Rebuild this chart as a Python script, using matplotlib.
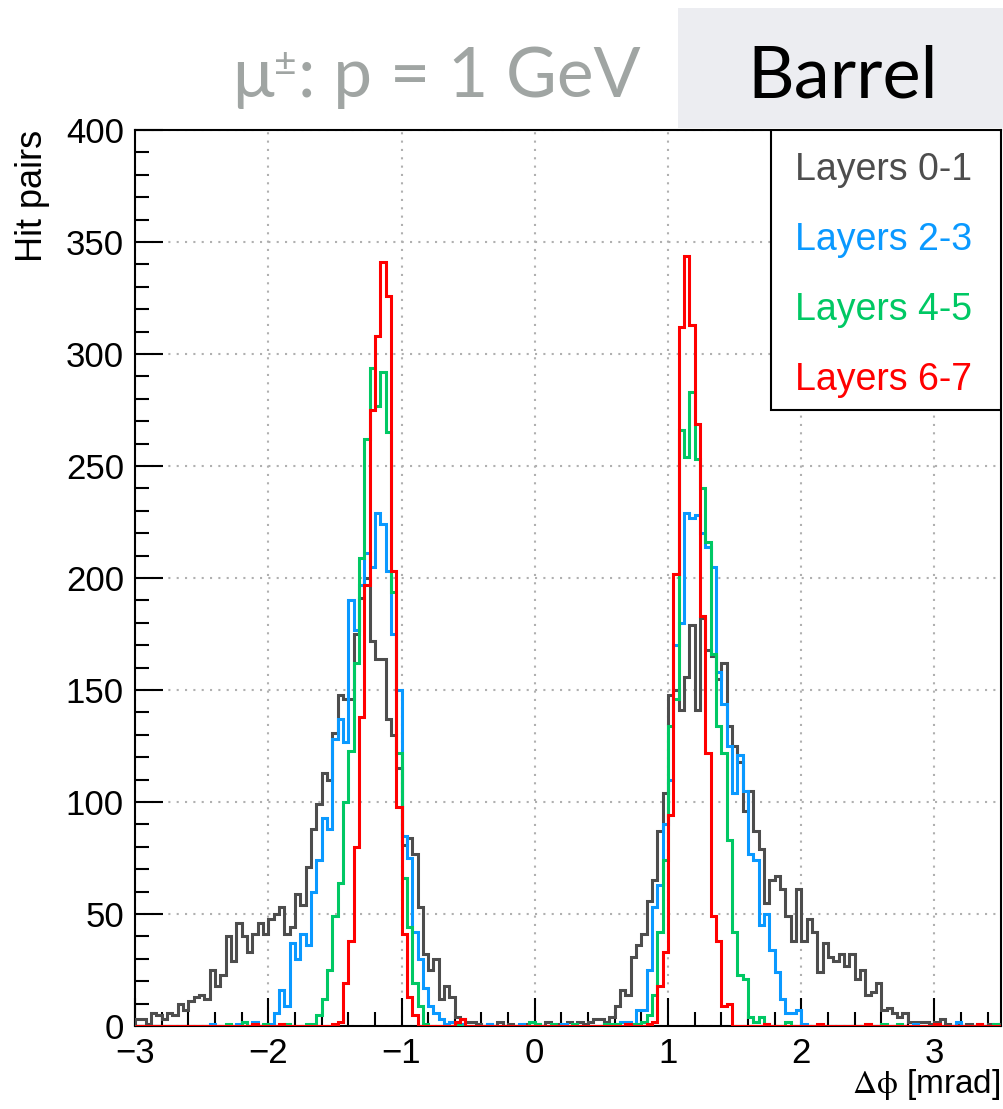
import numpy as np
import matplotlib
matplotlib.use("Agg")
from matplotlib import pyplot as plt
from matplotlib.patches import Rectangle
from matplotlib.ticker import MultipleLocator

plt.rcParams["font.family"] = ["Liberation Sans", "DejaVu Sans"]
plt.rcParams["mathtext.fontset"] = "stix"

# histogram binning: 0.04 mrad bins from -3 mrad
bin_width = 0.04
x_start = -3.0

# hit pair counts per bin
layers_01 = [
    3, 3, 1, 6, 5, 3, 6, 5, 10, 7,
    11, 13, 14, 12, 25, 18, 23, 40, 29, 46,
    40, 33, 41, 46, 41, 48, 50, 53, 41, 44,
    59, 54, 71, 88, 99, 113, 110, 131, 148, 146,
    146, 175, 191, 200, 172, 164, 164, 137, 130, 115,
    81, 84, 77, 53, 32, 25, 30, 12, 18, 13,
    4, 3, 2, 2, 1, 0, 1, 0, 2, 0,
    1, 0, 0, 1, 0, 1, 0, 2, 0, 1,
    0, 2, 1, 2, 1, 2, 3, 3, 2, 4,
    9, 16, 14, 31, 36, 41, 56, 65, 87, 104,
    148, 150, 141, 156, 179, 141, 182, 168, 165, 155,
    162, 134, 125, 118, 96, 105, 87, 79, 55, 65,
    67, 61, 49, 38, 61, 38, 48, 42, 24, 37,
    31, 29, 32, 27, 32, 21, 25, 14, 15, 19,
    7, 8, 6, 4, 6, 2, 2, 2, 2, 1,
    2, 3, 1, 0, 1, 0, 1, 0, 1, 0,
    1, 0, 1,
]
layers_23 = [
    0, 0, 0, 0, 0, 0, 0, 0, 0, 0,
    0, 0, 0, 0, 1, 0, 0, 0, 0, 1,
    0, 0, 2, 0, 0, 1, 6, 16, 9, 37,
    30, 41, 36, 60, 74, 93, 88, 128, 137, 127,
    190, 177, 197, 211, 205, 229, 224, 203, 175, 150,
    85, 75, 42, 30, 17, 9, 6, 3, 1, 2,
    0, 1, 0, 0, 0, 0, 1, 0, 0, 0,
    0, 0, 1, 0, 0, 0, 0, 0, 0, 0,
    1, 0, 0, 0, 0, 0, 0, 0, 1, 0,
    1, 2, 2, 1, 7, 7, 25, 53, 63, 90,
    110, 170, 180, 229, 227, 228, 220, 214, 205, 158,
    144, 125, 104, 121, 105, 77, 74, 45, 50, 34,
    24, 12, 6, 6, 7, 1, 0, 0, 0, 0,
    0, 0, 0, 0, 0, 0, 0, 0, 0, 0,
    0, 0, 0, 0, 0, 0, 1, 0, 0, 0,
    0, 0, 0, 0, 2, 0, 0, 0, 0, 0,
    0, 0, 0,
]
layers_45 = [
    0, 0, 0, 0, 0, 0, 0, 0, 0, 0,
    0, 0, 0, 0, 0, 0, 0, 1, 0, 0,
    2, 0, 0, 0, 1, 0, 0, 0, 1, 0,
    0, 0, 1, 1, 5, 12, 25, 49, 64, 100,
    123, 162, 209, 262, 294, 277, 292, 265, 194, 122,
    66, 44, 19, 9, 1, 0, 0, 0, 0, 0,
    1, 0, 0, 0, 0, 0, 0, 0, 0, 0,
    0, 0, 0, 0, 2, 1, 0, 0, 1, 0,
    0, 0, 1, 0, 0, 0, 0, 0, 1, 1,
    1, 0, 0, 1, 1, 2, 5, 14, 42, 74,
    134, 146, 266, 254, 283, 253, 240, 216, 166, 134,
    122, 83, 42, 23, 21, 4, 2, 4, 1, 0,
    0, 0, 2, 0, 0, 0, 0, 0, 0, 0,
    0, 0, 0, 0, 0, 0, 0, 1, 0, 0,
    1, 0, 0, 1, 0, 0, 0, 0, 0, 0,
    0, 0, 0, 0, 0, 0, 0, 0, 0, 0,
    0, 1, 0,
]
layers_67 = [
    0, 0, 0, 0, 0, 0, 0, 0, 0, 0,
    0, 0, 0, 0, 0, 0, 0, 0, 0, 0,
    0, 0, 1, 0, 0, 0, 0, 1, 0, 0,
    0, 0, 0, 0, 0, 0, 0, 1, 2, 19,
    38, 80, 138, 197, 275, 308, 341, 326, 203, 98,
    41, 13, 5, 0, 0, 0, 0, 0, 0, 0,
    2, 3, 0, 0, 0, 0, 0, 0, 0, 0,
    0, 0, 0, 0, 0, 0, 0, 0, 0, 0,
    0, 0, 0, 0, 0, 0, 0, 0, 0, 0,
    0, 0, 1, 0, 0, 0, 1, 2, 18, 33,
    94, 202, 312, 344, 313, 269, 183, 122, 49, 38,
    9, 10, 0, 0, 0, 0, 0, 0, 1, 0,
    0, 0, 0, 0, 0, 0, 0, 0, 1, 0,
    0, 0, 0, 0, 0, 0, 0, 1, 0, 0,
    0, 0, 0, 0, 0, 0, 0, 0, 0, 0,
    1, 0, 0, 0, 0, 0, 0, 0, 1, 0,
    0, 0, 0,
]

series = [layers_01, layers_23, layers_45, layers_67]
labels = ["Layers 0-1", "Layers 2-3", "Layers 4-5", "Layers 6-7"]
colors = ["#4d4d4d", "#0a99ff", "#00c864", "#ff0000"]

edges = x_start + bin_width * np.arange(len(layers_01) + 1)

fig = plt.figure(figsize=(10.04, 11.09), dpi=100)
ax = fig.add_axes([0.1345, 0.0748, 0.8626, 0.8079])

for counts, col in zip(series, colors):
    ax.stairs(counts, edges, color=col, lw=2.2, zorder=3)

ax.set_xlim(-3, 3.5)
ax.set_ylim(0, 400)
ax.xaxis.set_major_locator(MultipleLocator(1))
ax.xaxis.set_minor_locator(MultipleLocator(0.2))
ax.yaxis.set_major_locator(MultipleLocator(50))
ax.yaxis.set_minor_locator(MultipleLocator(10))
ax.tick_params(which="both", direction="in", top=False, right=False,
               width=1.5, labelsize=25, pad=8)
ax.tick_params(which="major", length=20)
ax.tick_params(which="minor", length=10)
ax.grid(True, which="major", color="#b0b0b0", linestyle=(0, (1, 3)), lw=1.5, zorder=1)
for sp in ax.spines.values():
    sp.set_linewidth(1.5)

# legend box with coloured labels
ax.add_patch(Rectangle((0.7344, 0.6875), 0.2656, 0.3125, transform=ax.transAxes,
                       facecolor="white", edgecolor="black", lw=1.5, zorder=5))
for i, (lab, col) in enumerate(zip(labels, colors)):
    ax.text(0.762, 0.9442 - i * 0.0781, lab, color=col, fontsize=27,
            transform=ax.transAxes, va="baseline", ha="left", zorder=6)

fig.text(33 / 1004, 1 - 130 / 1109, "Hit pairs", rotation=90, ha="center", va="top", fontsize=26)
fig.text(1000 / 1004, 1 - 1085 / 1109, r"$\mathrm{\Delta\phi}$ [mrad]",
         ha="right", va="center", fontsize=24)

# header: beam label and region box
fig.patches.append(Rectangle((678 / 1004, 1 - 128 / 1109), 326 / 1004, 120 / 1109,
                             transform=fig.transFigure, facecolor="#ecedf1", edgecolor="none"))
fig.text(843 / 1004, 1 - 97 / 1109, "Barrel", ha="center", va="baseline",
         fontsize=52, family=["Lato", "DejaVu Sans"], color="black")

gray = "#a0a5a3"
base_y = 1 - 97 / 1109
t_mu = fig.text(232 / 1004, base_y, "μ", ha="left", va="baseline", fontsize=50,
                family=["Lato", "DejaVu Sans"], color=gray)
t_pm = ax.annotate("±", xy=(1.0, base_y), xycoords=(t_mu, "figure fraction"),
                   xytext=(0, 15), textcoords="offset points", ha="left", va="baseline",
                   fontsize=28, family=["Lato", "DejaVu Sans"], color=gray,
                   annotation_clip=False)
ax.annotate(": p = 1 GeV", xy=(1.0, base_y), xycoords=(t_pm, "figure fraction"),
            xytext=(1, 0), textcoords="offset points", ha="left", va="baseline",
            fontsize=50, family=["Lato", "DejaVu Sans"], color=gray,
            annotation_clip=False)

fig.savefig("out.png", dpi=100)
